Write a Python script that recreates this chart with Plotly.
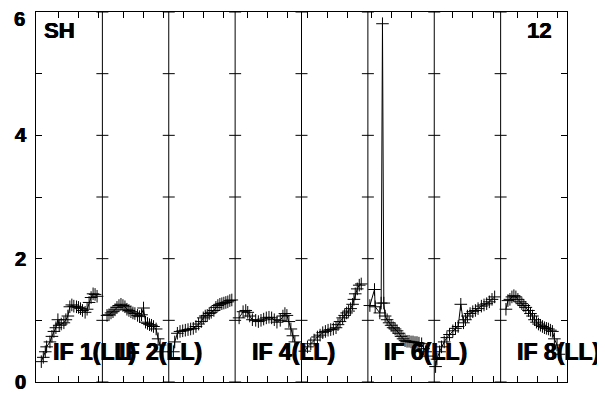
import plotly.graph_objects as go

# ---- data: x = position within panel (0..1), y = value ----
p1_x = [.08,.11,.14,.16,.21,.24,.27,.30,.33,.35,.38,.42,.45,.48,.51,.54,.57,.61,.64,.67,.70,.74,.77,.80,.83,.86,.89,.92]
p1_y = [.33,.40,.49,.57,.65,.74,.82,.88,1.01,.92,.94,.96,1.01,1.07,1.22,1.25,1.23,1.22,1.21,1.19,1.16,1.13,1.18,1.29,1.37,1.43,1.42,1.39]

p2_x = [.07,.10,.13,.16,.19,.22,.25,.28,.31,.34,.37,.40,.43,.46,.49,.53,.56,.59,.62,.65,.68,.71,.74,.77,.81,.84,.87,.90]
p2_y = [1.08,1.09,1.12,1.14,1.17,1.21,1.24,1.26,1.24,1.22,1.18,1.16,1.14,1.12,1.11,1.08,1.06,1.09,1.20,.97,.95,.93,.92,.90,.86,.70,.60,.49]

p3_x = [.07,.09,.13,.17,.21,.25,.29,.33,.37,.41,.45,.49,.52,.55,.58,.61,.64,.68,.71,.74,.77,.80,.83,.86,.89,.92,.95]
p3_y = [.49,.65,.79,.82,.83,.84,.85,.86,.87,.90,.94,.98,1.04,1.07,1.08,1.11,1.13,1.16,1.21,1.24,1.26,1.27,1.28,1.29,1.30,1.32,1.33]

p4_x = [.06,.12,.16,.19,.22,.26,.31,.35,.39,.43,.47,.51,.55,.59,.63,.68,.72,.75,.78,.81,.84,.87,.90]
p4_y = [1.04,1.14,1.16,1.13,1.07,1.01,1.00,.98,1.00,1.02,1.04,1.05,1.04,1.01,.97,1.00,1.07,1.11,1.08,.98,.86,.75,.65]

p5_x = [.05,.09,.14,.19,.24,.28,.32,.36,.40,.44,.48,.52,.55,.58,.62,.65,.68,.71,.74,.77,.79,.81,.84,.87,.90]
p5_y = [.50,.57,.62,.68,.73,.76,.80,.82,.84,.85,.86,.88,.93,.98,1.04,1.08,1.12,1.15,1.19,1.26,1.34,1.43,1.51,1.57,1.59]

p6_x = [.03,.10,.11,.18,.20,.22,.24,.26,.29,.32,.35,.38,.41,.44,.47,.50,.53,.56,.59,.62,.65,.68,.71,.74,.77,.81,.84,.87,.90]
p6_y = [1.24,1.50,1.22,1.12,1.28,5.81,1.28,1.07,1.01,.96,.92,.88,.86,.83,.79,.74,.70,.67,.66,.66,.65,.65,.64,.64,.63,.62,.54,.49,.42]

p7_x = [.02,.04,.08,.11,.15,.19,.23,.28,.32,.36,.40,.44,.47,.50,.54,.58,.62,.66,.71,.75,.79,.83,.87,.91]
p7_y = [.25,.37,.49,.57,.65,.72,.77,.83,.87,.90,1.26,.96,1.01,1.07,1.11,1.14,1.16,1.19,1.23,1.25,1.27,1.30,1.34,1.38]

p8_x = [.08,.11,.14,.17,.20,.23,.26,.29,.32,.35,.38,.42,.45,.48,.51,.54,.57,.60,.63,.66,.69,.72,.75,.78,.81,.85,.88]
p8_y = [1.18,1.32,1.34,1.38,1.40,1.38,1.34,1.30,1.27,1.24,1.21,1.16,1.11,1.07,1.01,.97,.94,.92,.90,.88,.87,.86,.84,.82,.70,.60,.45]

panels_x = [p1_x, p2_x, p3_x, p4_x, p5_x, p6_x, p7_x, p8_x]
panels_y = [p1_y, p2_y, p3_y, p4_y, p5_y, p6_y, p7_y, p8_y]

panel_labels = ["IF 1(LL)", "IF 2(LL)", "", "IF 4(LL)", "", "IF 6(LL)", "", "IF 8(LL)"]
corner_left = "SH"
corner_right = "12"

# minor tick offsets within each panel (fraction of panel)
panel_ticks = [[.34, .64, .94], [.325, .626, .927], [.22, .52, .82], [.19, .49, .79],
               [.09, .39, .69], [.06, .35, .66], [.28, .58, .89], [.25, .55, .85]]

y_ticks = [0, 1, 2, 3, 4, 5, 6]
y_ticktext = ["0", "", "2", "", "4", "", ""]
y_top_label = "6"   # drawn as an annotation so it is not clipped at the page top

FONT = "Liberation Sans, Arial, Helvetica, sans-serif"
HEAVY = "0.6px 0 0 black, -0.3px 0 0 black"

fig = go.Figure()
for i, (xs, ys) in enumerate(zip(panels_x, panels_y)):
    fig.add_trace(go.Scatter(
        x=[i + v for v in xs], y=ys, mode="lines+markers",
        line=dict(color="black", width=1),
        marker=dict(symbol="cross-thin", size=9, line=dict(color="black", width=1)),
        showlegend=False, hoverinfo="skip"))

xtickvals = [i + t for i, ts in enumerate(panel_ticks) for t in ts]

# panel separators and crossing ticks
for k in range(1, 8):
    fig.add_shape(type="line", x0=k, x1=k, y0=0, y1=6, xref="x", yref="y",
                  line=dict(color="black", width=1))
    for yv in y_ticks:
        fig.add_shape(type="line", xref="x", yref="y", xsizemode="pixel", xanchor=k,
                      x0=-6, x1=6, y0=yv, y1=yv, line=dict(color="black", width=1))

n_panels = len(panels_x)
for i, lab in enumerate(panel_labels):
    if lab:
        fig.add_annotation(x=i + 0.22, y=0.48, xref="x", yref="y", text="<b>" + lab + "</b>",
                           showarrow=False, xanchor="left", yanchor="middle",
                           font=dict(family=FONT, size=23, color="black", shadow=HEAVY))

fig.add_annotation(x=0.09, y=5.7, xref="x", yref="y", text="<b>" + corner_left + "</b>",
                   showarrow=False, xanchor="left", yanchor="middle",
                   font=dict(family=FONT, size=22, color="black", shadow=HEAVY))
fig.add_annotation(x=n_panels - 0.21, y=5.7, xref="x", yref="y", text="<b>" + corner_right + "</b>",
                   showarrow=False, xanchor="right", yanchor="middle",
                   font=dict(family=FONT, size=22, color="black", shadow=HEAVY))

fig.add_annotation(x=0, y=1, xref="paper", yref="paper", text="<b>" + y_top_label + "</b>",
                   showarrow=False, xanchor="right", yanchor="top", xshift=-9, yshift=6,
                   font=dict(family=FONT, size=20, color="black", shadow=HEAVY))

# the page body adds an 8px offset, so the figure is sized/margined to compensate
fig.update_layout(
    width=597, height=385,
    margin=dict(l=28, r=38, t=4, b=11),
    paper_bgcolor="white", plot_bgcolor="white",
    showlegend=False,
    xaxis=dict(range=[0, n_panels], showgrid=False, zeroline=False, showline=True,
               linecolor="black", linewidth=1, mirror="ticks", ticks="inside", ticklen=6,
               tickcolor="black", tickwidth=1, tickvals=xtickvals, showticklabels=False,
               automargin=False, fixedrange=True),
    yaxis=dict(range=[0, 6], showgrid=False, zeroline=False, showline=True,
               linecolor="black", linewidth=1, mirror="ticks", ticks="inside", ticklen=6,
               tickcolor="black", tickwidth=1, tickvals=y_ticks,
               ticktext=["<b>" + t + "</b>" if t else "" for t in y_ticktext],
               ticklabelstandoff=5, ticklabeloverflow="allow",
               tickfont=dict(family=FONT, size=20, color="black", shadow=HEAVY),
               automargin=False, fixedrange=True),
)

fig.write_html("out.html")
